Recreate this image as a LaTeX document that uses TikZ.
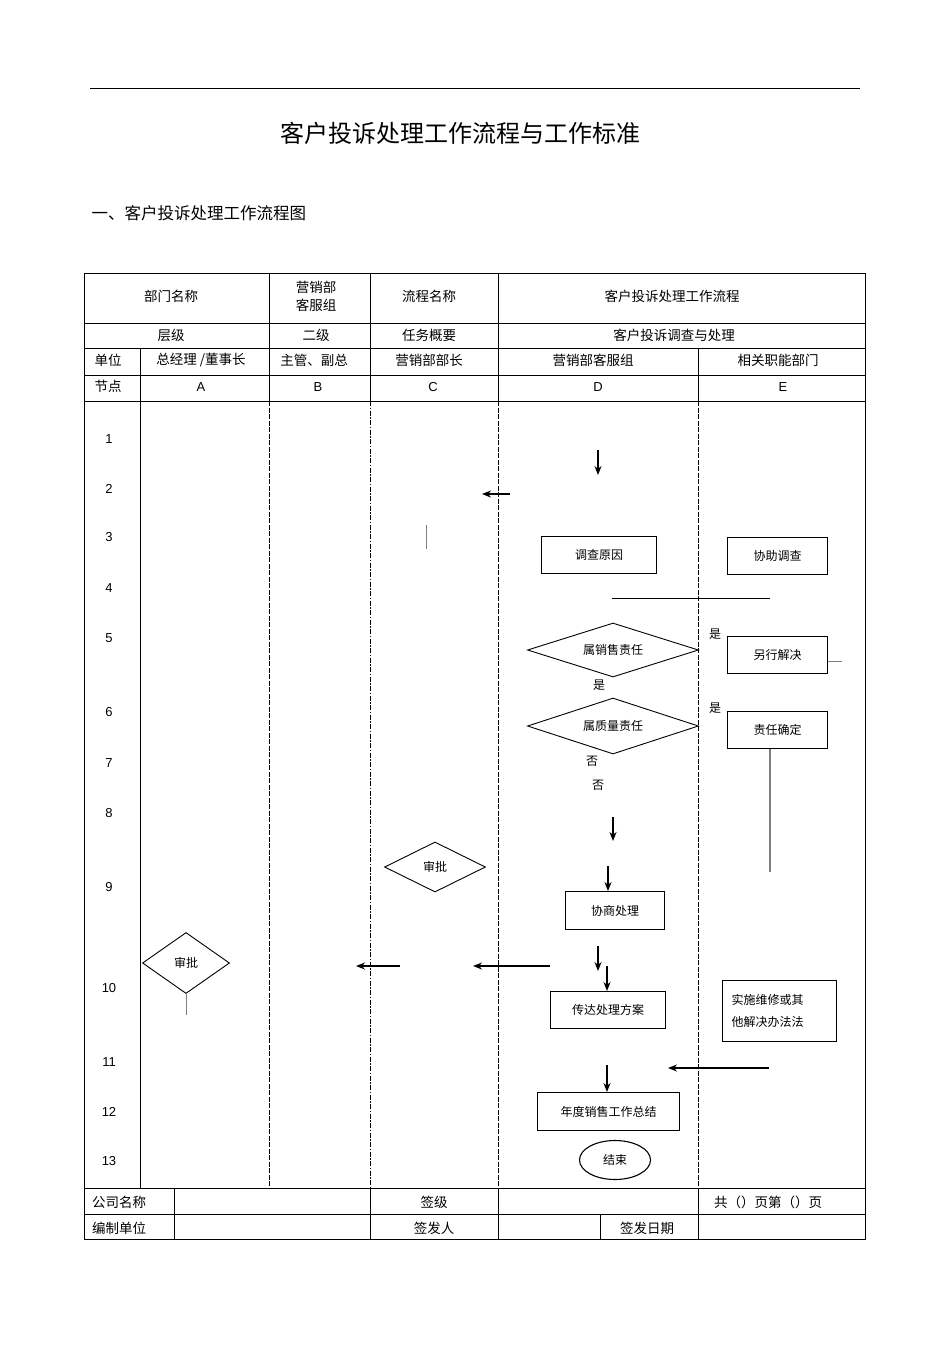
\documentclass[tikz,border=0pt]{standalone}
\usepackage{fontspec}
\setmainfont{Liberation Sans}
\newfontfamily\cjk{Noto Sans CJK SC}
\usetikzlibrary{shapes.geometric,arrows.meta}
\begin{document}
\begin{tikzpicture}[x=1pt,y=-1pt,font=\cjk\fontsize{13.5}{15}\selectfont,
 grid/.style={line width=0.8pt},
 lane/.style={line width=0.7pt,dash pattern=on 5pt off 1.5pt},
 lanedd/.style={line width=0.7pt,dash pattern=on 5pt off 1.5pt on 1.5pt off 1.5pt},
 box/.style={draw,line width=1.1pt,inner sep=0pt,anchor=north west},
 dia/.style={draw,diamond,line width=0.9pt,inner sep=0pt},
 arr/.style={-{Stealth[length=9pt,width=7pt]},line width=1.4pt},
 small/.style={font=\cjk\fontsize{12}{14}\selectfont}]
\useasboundingbox (0,0) rectangle (950,1345);
\draw[line width=0.8pt] (90,88) -- (860,88);
\node[font=\cjk\fontsize{24}{26}\selectfont] (title) at (460,133) {客户投诉处理工作流程与工作标准};
\node[font=\cjk\fontsize{16.5}{18}\selectfont,anchor=west] (sub) at (88,213) {一、客户投诉处理工作流程图};
% table frame
\draw[grid] (84,273) rectangle (865,1239);
\foreach \y in {323,348,375,401,1188,1214} \draw[grid] (84,\y) -- (865,\y);
\foreach \x in {269,370,498} \draw[grid] (\x,273) -- (\x,401);
\draw[grid] (140,348) -- (140,1188);
\draw[grid] (698,348) -- (698,401);
\draw[lane] (269,401) -- (269,1188);
\draw[lanedd] (370,401) -- (370,1188);
\draw[lane] (498,401) -- (498,1188);
\draw[lane] (698,401) -- (698,1188);
\foreach \x in {174,370,498,698} \draw[grid] (\x,1188) -- (\x,1239);
\draw[grid] (600,1214) -- (600,1239);
% header texts
\node (h1) at (171,296) {部门名称};
\node[align=center] (h2) at (316,296) {营销部\\[3pt]客服组};
\node (h3) at (429,296) {流程名称};
\node (h4) at (672,296) {客户投诉处理工作流程};
\node (l1) at (171,335) {层级};
\node (l2) at (316,335) {二级};
\node (l3) at (429,335) {任务概要};
\node (l4) at (674,335) {客户投诉调查与处理};
\node (u0) at (108,360) {单位};
\node (u1) at (201,360) {总经理 /董事长};
\node (u2) at (314,360) {主管、副总};
\node (u3) at (429,360) {营销部部长};
\node (u4) at (593,360) {营销部客服组};
\node (u5) at (778,360) {相关职能部门};
\node (n0) at (108,386) {节点};
\node[font=\fontsize{13}{15}\selectfont] (nA) at (201,387) {A};
\node[font=\fontsize{13}{15}\selectfont] (nB) at (318,387) {B};
\node[font=\fontsize{13}{15}\selectfont] (nC) at (433,387) {C};
\node[font=\fontsize{13}{15}\selectfont] (nD) at (598,387) {D};
\node[font=\fontsize{13}{15}\selectfont] (nE) at (783,387) {E};
\foreach \n/\y in {1/439,2/489,3/537,4/588,5/638,6/712,7/763,8/813,9/887,10/988,11/1062,12/1112,13/1161}
  \node[font=\fontsize{13}{15}\selectfont] (r\n) at (109,\y) {\n};
% footer
\node (f1) at (119,1202) {公司名称};
\node (f2) at (434,1202) {签级};
\node (f3) at (768,1202) {共（）页第（）页};
\node (f4) at (119,1228) {编制单位};
\node (f5) at (434,1228) {签发人};
\node (f6) at (647,1228) {签发日期};
% flow
\coordinate (a1s) at (598,450); \coordinate (a1e) at (598,475);
\draw[arr] (a1s) -- (a1e);
\coordinate (a2s) at (510,494); \coordinate (a2e) at (482,494);
\draw[arr] (a2s) -- (a2e);
\coordinate (v1s) at (426,525); \coordinate (v1e) at (426,549);
\draw[line width=1pt,gray] (v1s) -- (v1e);
\node[box,minimum width=115pt,minimum height=37pt,small] (dc) at (541,536) {调查原因};
\node[box,minimum width=100pt,minimum height=37pt,small] (xz) at (727,537) {协助调查};
\coordinate (h4s) at (612,598); \coordinate (h4e) at (770,598);
\draw[line width=0.8pt] (h4s) -- (h4e);
\node[dia,minimum width=171pt,minimum height=54pt,aspect=3.2,small] (xs) at (613,650) {属销售责任};
\node[small] (y1) at (715,634) {是};
\node[small] (y2) at (599,685) {是};
\node[box,minimum width=100pt,minimum height=37pt,small] (lx) at (727,636) {另行解决};
\coordinate (lxe) at (842,661);
\draw[line width=0.8pt,gray] (lx.east |- lxe) -- (lxe);
\node[dia,minimum width=171pt,minimum height=56pt,aspect=3.1,small] (zl) at (613,726) {属质量责任};
\node[small] (y3) at (715,708) {是};
\node[box,minimum width=100pt,minimum height=37pt,small] (zr) at (727,711) {责任确定};
\coordinate (zre) at (770,872);
\draw[line width=1.3pt,gray] (zr.south -| zre) -- (zre);
\node[small] (no1) at (592,761) {否};
\node[small] (no2) at (598,785) {否};
\coordinate (a3s) at (613,817); \coordinate (a3e) at (613,841);
\draw[arr] (a3s) -- (a3e);
\node[dia,minimum width=101pt,minimum height=50pt,aspect=2,small] (spc) at (435,867) {审批};
\coordinate (a4s) at (608,866);
\node[box,minimum width=99pt,minimum height=38pt,small] (xs2) at (565,891) {协商处理};
\draw[arr] (a4s) -- (xs2.north -| a4s);
\coordinate (a5s) at (598,946); \coordinate (a5e) at (598,971);
\draw[arr] (a5s) -- (a5e);
\coordinate (a6s) at (607,966);
\node[box,minimum width=115pt,minimum height=37pt,small] (cd) at (550,991) {传达处理方案};
\draw[arr] (a6s) -- (cd.north -| a6s);
\coordinate (a7s) at (550,966); \coordinate (a7e) at (473,966);
\draw[arr] (a7s) -- (a7e);
\coordinate (a8s) at (400,966); \coordinate (a8e) at (356,966);
\draw[arr] (a8s) -- (a8e);
\node[dia,minimum width=87pt,minimum height=61pt,aspect=1.4,small] (spa) at (186,963) {审批};
\coordinate (spae) at (186,1015);
\draw[line width=1pt,gray] (spa.south) -- (spae);
\node[box,minimum width=114pt,minimum height=61pt,small,align=left,text width=104pt] (ss) at (722,980) {\hspace*{4pt}实施维修或其\\[8pt]\hspace*{4pt}他解决办法法};
\coordinate (a9s) at (769,1068); \coordinate (a9e) at (668,1068);
\draw[arr] (a9s) -- (a9e);
\coordinate (a10s) at (607,1065);
\node[box,minimum width=142pt,minimum height=38pt,small] (nd) at (537,1092) {年度销售工作总结};
\draw[arr] (a10s) -- (nd.north -| a10s);
\node[draw,ellipse,line width=1.1pt,minimum width=71pt,minimum height=39pt,inner sep=0pt,small] (end) at (615,1160) {结束};
\end{tikzpicture}
\end{document}
